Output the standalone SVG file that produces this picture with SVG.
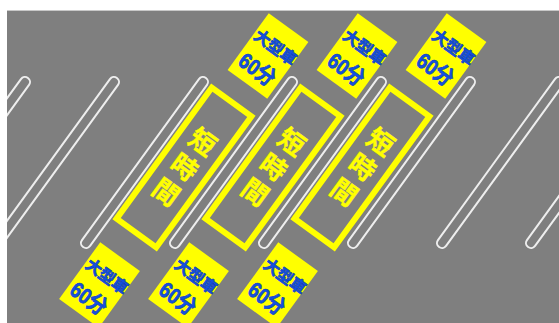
<svg xmlns="http://www.w3.org/2000/svg" width="559" height="323" viewBox="0 0 559 323">
  <defs>
    <clipPath id="lot">
      <rect x="7" y="11" width="552" height="312"/>
    </clipPath>
    <style>
      .loop { fill: none; stroke: #eeeeee; stroke-width: 2; }
      .bay { fill: none; stroke: #ffff00; stroke-width: 6; }
      .bayText { fill: #ffff00; stroke: #ffff00; stroke-width: 0.5; stroke-linejoin: round; font-family: "Noto Sans CJK JP", sans-serif; font-weight: bold; font-size: 26px; text-anchor: middle; }
      .sign { fill: #ffff00; }
      .signText { fill: #1452e0; stroke: #1040c0; stroke-width: 0.7; stroke-linejoin: round; font-family: "Liberation Sans", "Noto Sans CJK JP", sans-serif; font-weight: bold; text-anchor: middle; }
      .l1 { font-size: 16px; }
      .l2 { font-size: 22px; }
    </style>
  </defs>
  <rect x="0" y="0" width="559" height="323" fill="#ffffff"/>
  <rect id="ground" x="7" y="11" width="552" height="312" fill="#7f7f7f"/>
  <line x1="7" y1="10.5" x2="559" y2="10.5" stroke="#c8c8c8" stroke-width="1"/>
  <g id="lines" clip-path="url(#lot)">
    <rect class="loop" x="-5" y="-104.5" width="10" height="209" rx="5" transform="translate(-33.5,162.5) rotate(36)"/>
    <rect class="loop" x="-5" y="-104.5" width="10" height="209" rx="5" transform="translate(55.5,162.5) rotate(36)"/>
    <rect class="loop" x="-5" y="-104.5" width="10" height="209" rx="5" transform="translate(144.5,162.5) rotate(36)"/>
    <rect class="loop" x="-5" y="-104.5" width="10" height="209" rx="5" transform="translate(233.5,162.5) rotate(36)"/>
    <rect class="loop" x="-5" y="-104.5" width="10" height="209" rx="5" transform="translate(322.5,162.5) rotate(36)"/>
    <rect class="loop" x="-5" y="-104.5" width="10" height="209" rx="5" transform="translate(411.5,162.5) rotate(36)"/>
    <rect class="loop" x="-5" y="-104.5" width="10" height="209" rx="5" transform="translate(500.5,162.5) rotate(36)"/>
    <rect class="loop" x="-5" y="-104.5" width="10" height="209" rx="5" transform="translate(589.5,162.5) rotate(36)"/>
  </g>
  <g id="bay1" transform="translate(184,167.5) rotate(36)">
    <rect class="bay" x="-24.5" y="-81" width="49" height="162"/>
    <text class="bayText" x="0" y="-22">短</text>
    <text class="bayText" x="0" y="9">時</text>
    <text class="bayText" x="0" y="40">間</text>
  </g>
  <g id="bay2" transform="translate(273,167.5) rotate(36)">
    <rect class="bay" x="-24.5" y="-81" width="49" height="162"/>
    <text class="bayText" x="0" y="-22">短</text>
    <text class="bayText" x="0" y="9">時</text>
    <text class="bayText" x="0" y="40">間</text>
  </g>
  <g id="bay3" transform="translate(362,167.5) rotate(36)">
    <rect class="bay" x="-24.5" y="-81" width="49" height="162"/>
    <text class="bayText" x="0" y="-22">短</text>
    <text class="bayText" x="0" y="9">時</text>
    <text class="bayText" x="0" y="40">間</text>
  </g>
  <g id="signTop1" transform="translate(268,56) rotate(36)">
    <rect class="sign" x="-24.5" y="-35" width="49" height="70"/>
    <text class="signText l1" x="1" y="-5.5">大型車</text>
    <text class="signText l2" x="-1" y="25" transform="scale(0.85,1)">60分</text>
  </g>
  <g id="signTop2" transform="translate(357,56) rotate(36)">
    <rect class="sign" x="-24.5" y="-35" width="49" height="70"/>
    <text class="signText l1" x="1" y="-5.5">大型車</text>
    <text class="signText l2" x="-1" y="25" transform="scale(0.85,1)">60分</text>
  </g>
  <g id="signTop3" transform="translate(446,56) rotate(36)">
    <rect class="sign" x="-24.5" y="-35" width="49" height="70"/>
    <text class="signText l1" x="1" y="-5.5">大型車</text>
    <text class="signText l2" x="-1" y="25" transform="scale(0.85,1)">60分</text>
  </g>
  <g id="signBottom1" transform="translate(99.5,285) rotate(36)">
    <rect class="sign" x="-24.5" y="-35" width="49" height="70"/>
    <text class="signText l1" x="1" y="-5.5">大型車</text>
    <text class="signText l2" x="-1" y="25" transform="scale(0.85,1)">60分</text>
  </g>
  <g id="signBottom2" transform="translate(188.5,285) rotate(36)">
    <rect class="sign" x="-24.5" y="-35" width="49" height="70"/>
    <text class="signText l1" x="1" y="-5.5">大型車</text>
    <text class="signText l2" x="-1" y="25" transform="scale(0.85,1)">60分</text>
  </g>
  <g id="signBottom3" transform="translate(277.5,285) rotate(36)">
    <rect class="sign" x="-24.5" y="-35" width="49" height="70"/>
    <text class="signText l1" x="1" y="-5.5">大型車</text>
    <text class="signText l2" x="-1" y="25" transform="scale(0.85,1)">60分</text>
  </g>
</svg>
